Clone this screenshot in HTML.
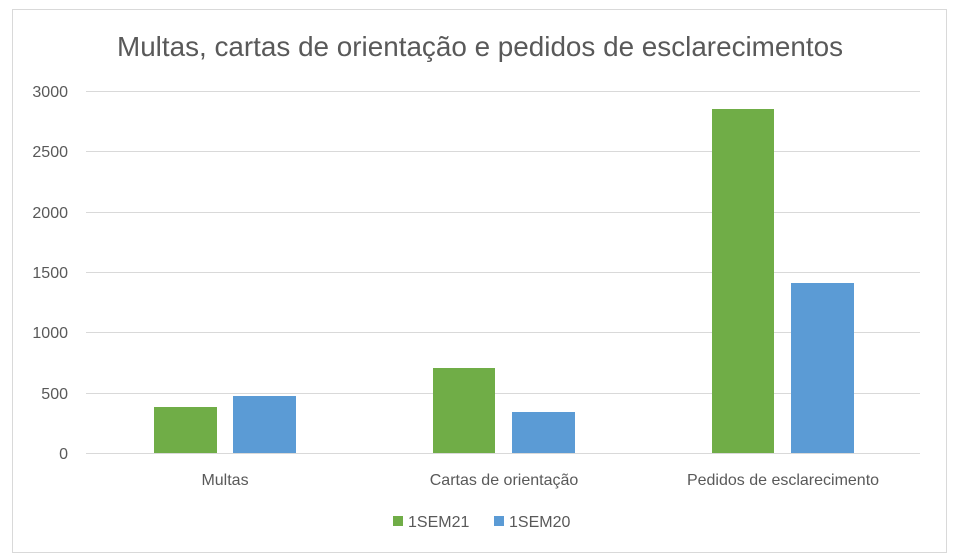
<!DOCTYPE html>
<html><head><style>
html,body{margin:0;padding:0;background:#fff;}
svg{display:block;font-family:"Liberation Sans",sans-serif;}
</style></head><body>
<svg width="958" height="559" xmlns="http://www.w3.org/2000/svg">
<rect x="12.5" y="9.5" width="934" height="543" fill="#fff" stroke="#d9d9d9"/>
<text x="480" y="56" text-anchor="middle" font-size="27.5" fill="#595959" textLength="726" lengthAdjust="spacingAndGlyphs">Multas, cartas de orientação e pedidos de esclarecimentos</text>
<g stroke="#d9d9d9" stroke-width="1">
<line x1="86" x2="920" y1="91.5" y2="91.5"/>
<line x1="86" x2="920" y1="151.5" y2="151.5"/>
<line x1="86" x2="920" y1="212.5" y2="212.5"/>
<line x1="86" x2="920" y1="272.5" y2="272.5"/>
<line x1="86" x2="920" y1="332.5" y2="332.5"/>
<line x1="86" x2="920" y1="393.5" y2="393.5"/>
<line x1="86" x2="920" y1="453.5" y2="453.5"/>
</g>
<g font-size="16" fill="#595959" text-anchor="end">
<text x="68" y="97">3000</text>
<text x="68" y="157">2500</text>
<text x="68" y="218">2000</text>
<text x="68" y="278">1500</text>
<text x="68" y="338">1000</text>
<text x="68" y="399">500</text>
<text x="68" y="459">0</text>
</g>
<g fill="#70ad47">
<rect x="154" y="407" width="63" height="46"/>
<rect x="433" y="368" width="62" height="85"/>
<rect x="712" y="109" width="62" height="344"/>
</g>
<g fill="#5b9bd5">
<rect x="233" y="396" width="63" height="57"/>
<rect x="512" y="412" width="63" height="41"/>
<rect x="791" y="283" width="63" height="170"/>
</g>
<g font-size="16" fill="#595959" text-anchor="middle">
<text x="225" y="485">Multas</text>
<text x="504" y="485">Cartas de orientação</text>
<text x="783" y="485">Pedidos de esclarecimento</text>
</g>
<rect x="393" y="516" width="10" height="10" fill="#70ad47"/>
<text x="408" y="527" font-size="16" fill="#595959">1SEM21</text>
<rect x="494" y="516" width="10" height="10" fill="#5b9bd5"/>
<text x="509" y="527" font-size="16" fill="#595959">1SEM20</text>
</svg>
</body></html>
